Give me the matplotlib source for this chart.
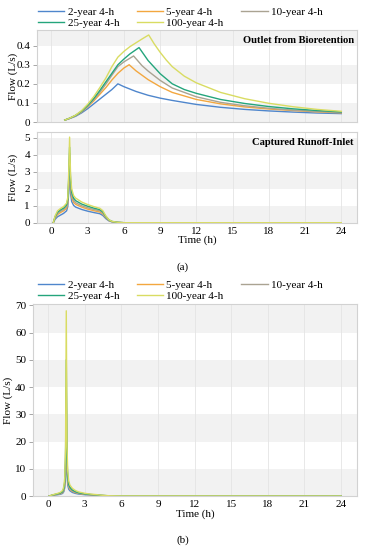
import matplotlib
matplotlib.use("Agg")
import matplotlib.pyplot as plt
from matplotlib.lines import Line2D

plt.rcParams['font.family'] = ['Liberation Serif', 'DejaVu Serif']

# ---------------- data ----------------
series_labels = ["2-year 4-h", "5-year 4-h", "10-year 4-h", "25-year 4-h", "100-year 4-h"]
series_colors = ["#4f86cc", "#f3a73f", "#aaa392", "#24a57c", "#d9dc62"]
x_ticks = [0, 3, 6, 9, 12, 15, 18, 21, 24]

# Outlet from Bioretention (L/s)
out_t_2 = [1.1, 1.5, 2, 2.5, 3, 3.5, 4, 4.5, 5, 5.5, 6, 7, 8, 9, 10, 12, 14, 16, 18, 20, 22, 24]
out_v_2 = [0.01, 0.018, 0.03, 0.048, 0.07, 0.095, 0.12, 0.145, 0.17, 0.2, 0.185, 0.16, 0.14, 0.125,
           0.113, 0.092, 0.077, 0.066, 0.058, 0.052, 0.047, 0.044]
out_t_5 = [1.1, 1.5, 2, 2.5, 3, 3.5, 4, 4.5, 5, 5.5, 6, 6.43, 7, 8, 9, 10, 12, 14, 16, 18, 20, 22, 24]
out_v_5 = [0.01, 0.019, 0.033, 0.053, 0.08, 0.11, 0.145, 0.18, 0.22, 0.255, 0.283, 0.30, 0.268, 0.222,
           0.185, 0.155, 0.118, 0.095, 0.079, 0.068, 0.06, 0.053, 0.048]
out_t_10 = [1.1, 1.5, 2, 2.5, 3, 3.5, 4, 4.5, 5, 5.5, 6, 6.8, 7.5, 8, 9, 10, 12, 14, 16, 18, 20, 22, 24]
out_v_10 = [0.01, 0.019, 0.034, 0.055, 0.083, 0.117, 0.155, 0.198, 0.245, 0.29, 0.315, 0.346, 0.295, 0.267,
            0.218, 0.178, 0.132, 0.103, 0.085, 0.072, 0.062, 0.055, 0.05]
out_t_25 = [1.1, 1.5, 2, 2.5, 3, 3.5, 4, 4.5, 5, 5.5, 6, 6.5, 7.25, 8, 9, 10, 11, 12, 14, 16, 18, 20, 22, 24]
out_v_25 = [0.01, 0.02, 0.035, 0.057, 0.087, 0.123, 0.165, 0.21, 0.255, 0.3, 0.33, 0.357, 0.39, 0.322,
            0.253, 0.2, 0.17, 0.15, 0.118, 0.097, 0.081, 0.069, 0.06, 0.053]
out_t_100 = [1.1, 1.5, 2, 2.5, 3, 3.5, 4, 4.5, 5, 5.5, 6, 6.5, 7, 7.5, 8.05, 8.5, 9, 9.5, 10, 11, 12,
             14, 16, 18, 20, 22, 24]
out_v_100 = [0.01, 0.02, 0.036, 0.06, 0.093, 0.133, 0.18, 0.23, 0.29, 0.34, 0.37, 0.395, 0.415, 0.435,
             0.456, 0.41, 0.365, 0.325, 0.29, 0.24, 0.205, 0.155, 0.122, 0.098, 0.08, 0.066, 0.056]

# Captured Runoff-Inlet (L/s)
in_t = [0.15, 0.3, 0.5, 0.75, 1.0, 1.25, 1.35, 1.42, 1.5, 1.58, 1.67, 1.83, 2.0, 2.5, 3.0, 3.5, 4.0,
        4.25, 4.5, 4.75, 5.0, 5.5, 6.0, 24]
in_2 = [0, 0.2, 0.35, 0.45, 0.55, 0.7, 0.95, 1.7, 3.2, 1.7, 1.25, 1.02, 0.92, 0.78, 0.68, 0.6, 0.53,
        0.43, 0.24, 0.11, 0.05, 0.01, 0, 0]
in_5 = [0, 0.28, 0.48, 0.6, 0.7, 0.85, 1.15, 2.1, 3.75, 2.1, 1.5, 1.2, 1.08, 0.92, 0.8, 0.71, 0.63,
        0.52, 0.3, 0.13, 0.06, 0.015, 0, 0]
in_10 = [0, 0.32, 0.55, 0.68, 0.78, 0.95, 1.25, 2.3, 4.1, 2.3, 1.65, 1.32, 1.18, 1.0, 0.88, 0.78, 0.7,
         0.58, 0.33, 0.15, 0.07, 0.015, 0, 0]
in_25 = [0, 0.36, 0.62, 0.76, 0.86, 1.05, 1.38, 2.5, 4.45, 2.5, 1.8, 1.45, 1.3, 1.1, 0.97, 0.86, 0.77,
         0.64, 0.37, 0.17, 0.075, 0.02, 0, 0]
in_100 = [0, 0.4, 0.7, 0.84, 0.95, 1.15, 1.5, 2.8, 5.05, 2.8, 2.0, 1.6, 1.45, 1.22, 1.07, 0.95, 0.85,
          0.71, 0.4, 0.18, 0.08, 0.02, 0, 0]

# Panel (b) (L/s)
b_t = [0.1, 0.3, 0.5, 0.75, 1.0, 1.2, 1.3, 1.38, 1.44, 1.5, 1.56, 1.62, 1.7, 1.8, 2.0, 2.25, 2.5,
       3.0, 3.5, 4.0, 4.3, 5.0, 6.0, 24]
b_2 = [0, 0.15, 0.3, 0.45, 0.6, 0.95, 1.6, 3.2, 8, 20, 8, 4, 2.5, 1.9, 1.3, 0.95, 0.72, 0.48, 0.34,
       0.24, 0.15, 0.05, 0.01, 0]
b_5 = [0, 0.2, 0.4, 0.58, 0.8, 1.25, 2.1, 4.2, 10.5, 33, 10.5, 5.3, 3.3, 2.5, 1.7, 1.25, 0.95, 0.63,
       0.45, 0.32, 0.2, 0.06, 0.015, 0]
b_10 = [0, 0.22, 0.45, 0.65, 0.9, 1.4, 2.4, 4.8, 12, 40, 12, 6, 3.7, 2.8, 1.9, 1.4, 1.05, 0.7, 0.5,
        0.35, 0.22, 0.07, 0.02, 0]
b_25 = [0, 0.25, 0.5, 0.75, 1.05, 1.6, 2.8, 5.5, 14, 50, 14, 7, 4.3, 3.2, 2.2, 1.6, 1.2, 0.8, 0.55,
        0.4, 0.25, 0.08, 0.02, 0]
b_100 = [0, 0.3, 0.6, 0.9, 1.3, 2.0, 3.5, 7.0, 18, 68, 18, 9, 5.5, 4.0, 2.8, 2.0, 1.5, 1.0, 0.7,
         0.5, 0.3, 0.1, 0.03, 0]

out_series = [(out_t_2, out_v_2), (out_t_5, out_v_5), (out_t_10, out_v_10),
              (out_t_25, out_v_25), (out_t_100, out_v_100)]
in_series = [in_2, in_5, in_10, in_25, in_100]
b_series = [b_2, b_5, b_10, b_25, b_100]

# ---------------- figure ----------------
W, H = 366, 550
fig = plt.figure(figsize=(W / 100, H / 100), dpi=100)


def rect(l, t, r, b):
    return [l / W, 1 - b / H, (r - l) / W, (b - t) / H]


FS = 8
band_col = "#f2f2f2"
grid_col = "#e4e4e4"
spine_col = "#d2d2d2"
xlim = (-1.2, 25.3)


def style(ax, ymax, step, yticks, yticklabels, show_x):
    ax.set_xlim(*xlim)
    ax.set_ylim(0, ymax)
    k = 0
    while k * step < ymax:
        if k % 2 == 0:
            ax.axhspan(k * step, (k + 1) * step, color=band_col, lw=0, zorder=0)
        k += 1
    for xt in x_ticks:
        ax.axvline(xt, color=grid_col, lw=0.6, zorder=0.5)
    for s in ax.spines.values():
        s.set_color(spine_col)
        s.set_linewidth(0.8)
    ax.set_yticks(yticks)
    ax.set_yticklabels(yticklabels, fontsize=FS)
    ax.tick_params(axis='y', length=3, width=0.6, color="#999999", pad=2)
    ax.set_xticks(x_ticks)
    if show_x:
        ax.set_xticklabels([str(v) for v in x_ticks], fontsize=FS)
        ax.tick_params(axis='x', length=0, pad=3)
        ax.set_xlabel("Time (h)", fontsize=FS, labelpad=0)
    else:
        ax.tick_params(axis='x', length=0, labelbottom=False)
    ax.set_ylabel("Flow (L/s)", fontsize=FS)


# Panel a-1
ax1 = fig.add_axes(rect(37, 30, 357, 122))
style(ax1, 0.482, 0.1, [0, 0.1, 0.2, 0.3, 0.4], ["0", "0.1", "0.2", "0.3", "0.4"], False)
for (t, v), c in zip(out_series, series_colors):
    ax1.plot(t, v, color=c, lw=1.0, zorder=2)
ax1.text(0.99, 0.93, "Outlet from Bioretention", transform=ax1.transAxes, ha='right', va='top',
         fontsize=7.6, fontweight='bold')
ax1.yaxis.set_label_coords(-0.06, 0.5)

# Panel a-2
ax2 = fig.add_axes(rect(37, 132, 357, 222.7))
style(ax2, 5.35, 1, [0, 1, 2, 3, 4, 5], ["0", "1", "2", "3", "4", "5"], True)
for v, c in zip(in_series, series_colors):
    ax2.plot(in_t, v, color=c, lw=1.0, zorder=2)
ax2.text(0.99, 0.93, "Captured Runoff-Inlet", transform=ax2.transAxes, ha='right', va='top',
         fontsize=7.6, fontweight='bold')
ax2.yaxis.set_label_coords(-0.06, 0.5)

# Panel b
ax3 = fig.add_axes(rect(33.3, 304, 357, 496))
style(ax3, 70.5, 10, [0, 10, 20, 30, 40, 50, 60, 70],
      ["0", "10", "20", "30", "40", "50", "60", "70"], True)
for v, c in zip(b_series, series_colors):
    ax3.plot(b_t, v, color=c, lw=1.0, zorder=2)
ax3.yaxis.set_label_coords(-0.062, 0.5)

# legends (row-wise order: matplotlib fills columns first)
order = [0, 3, 1, 4, 2]
handles = [Line2D([0], [0], color=series_colors[i], lw=1.0) for i in order]
labels = [series_labels[i] for i in order]
for ytop in (6, 279):
    fig.legend(handles, labels, ncol=3, loc='upper left',
               bbox_to_anchor=(37 / W, 1 - ytop / H), frameon=False, fontsize=FS,
               handlelength=2.35, handletextpad=0.3, columnspacing=1.6,
               labelspacing=0.12, borderpad=0.1, borderaxespad=0)

fig.text(183 / W, 1 - 267 / H, "(a)", ha='center', va='center', fontsize=FS)
fig.text(183 / W, 1 - 540 / H, "(b)", ha='center', va='center', fontsize=FS)

fig.savefig("out.png", dpi=100)
